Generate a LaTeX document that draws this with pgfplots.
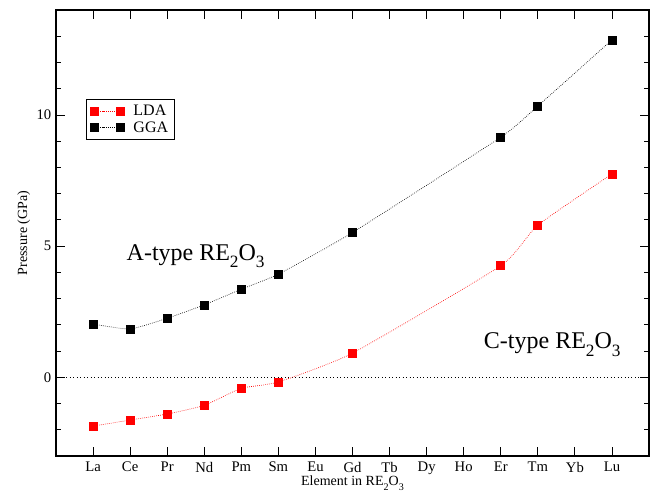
\documentclass[border=0pt]{standalone}
\usepackage{fontspec}
\setmainfont{Liberation Serif}
\usepackage{graphicx}
\usepackage{pgfplots}
\pgfplotsset{compat=1.18}
\newcommand{\sbs}[1]{\raisebox{-0.32em}{\scalebox{0.72}{#1}}}
\begin{document}
\begin{tikzpicture}
\begin{axis}[
  scale only axis,
  width=444.75pt, height=334.5pt,
  at={(0,0)}, anchor=south west,
  xmin=0, xmax=16, ymin=-3, ymax=14,
  xtick={1,...,15},
  xticklabels={La,Ce,Pr,Nd,Pm,Sm,Eu,Gd,Tb,Dy,Ho,Er,Tm,Yb,Lu},
  ytick={0,5,10},
  minor ytick={-3,-2,-1,1,2,3,4,6,7,8,9,11,12,13,14},
  tick align=inside,
  major tick length=6.5pt,
  minor tick length=3.5pt,
  tick style={black, line width=0.6pt},
  axis line style={line width=0.9pt},
  /pgf/number format/assume math mode=true,
  ticklabel style={font=\fontsize{11}{12}\selectfont},
  xticklabel style={yshift=-1pt},
  xlabel={Element in RE\sbs{2}O\sbs{3}},
  ylabel={Pressure  (GPa)},
  label style={font=\fontsize{10.5}{12}\selectfont},
  xlabel style={yshift=6pt},
  ylabel style={yshift=-2pt},
  legend style={at={(axis cs:0.81,10.6)}, anchor=north west, draw=black, line width=0.6pt,
    font=\fontsize{12}{14}\selectfont, inner xsep=3pt, inner ysep=2pt, row sep=-1pt, cells={anchor=west}},
  legend image code/.code={\draw[#1] plot coordinates {(0cm,0cm) (0.68cm,0cm)}; \path (0.95cm,0cm);},
  clip=false,
]
\draw[black, dotted, line width=0.6pt] (axis cs:0,0) -- (axis cs:16,0);
\addplot[red, densely dotted, line width=0.5pt, smooth, tension=0.3, mark=square*, mark size=3pt, mark options={solid, fill=red}]
coordinates {(1,-1.86) (2,-1.63) (3,-1.40) (4,-1.07) (5,-0.42) (6,-0.18) (8,0.92) (12,4.25) (13,5.80) (15,7.75)};
\addlegendentry{LDA}
\addplot[black, densely dotted, line width=0.5pt, smooth, tension=0.3, mark=square*, mark size=3pt, mark options={solid, fill=black}]
coordinates {(1,2.03) (2,1.84) (3,2.25) (4,2.76) (5,3.36) (6,3.93) (8,5.52) (12,9.15) (13,10.34) (15,12.86)};
\addlegendentry{GGA}
\node[anchor=base west, font=\fontsize{18}{20}\selectfont, inner sep=0pt] at (axis cs:1.9,4.47) {A-type RE\sbs{2}O\sbs{3}};
\node[anchor=base west, font=\fontsize{18}{20}\selectfont, inner sep=0pt] at (axis cs:11.54,1.1) {C-type RE\sbs{2}O\sbs{3}};
\end{axis}
\pgfresetboundingbox
\path (-42pt,-33pt) rectangle (450pt,342pt);
\end{tikzpicture}
\end{document}
